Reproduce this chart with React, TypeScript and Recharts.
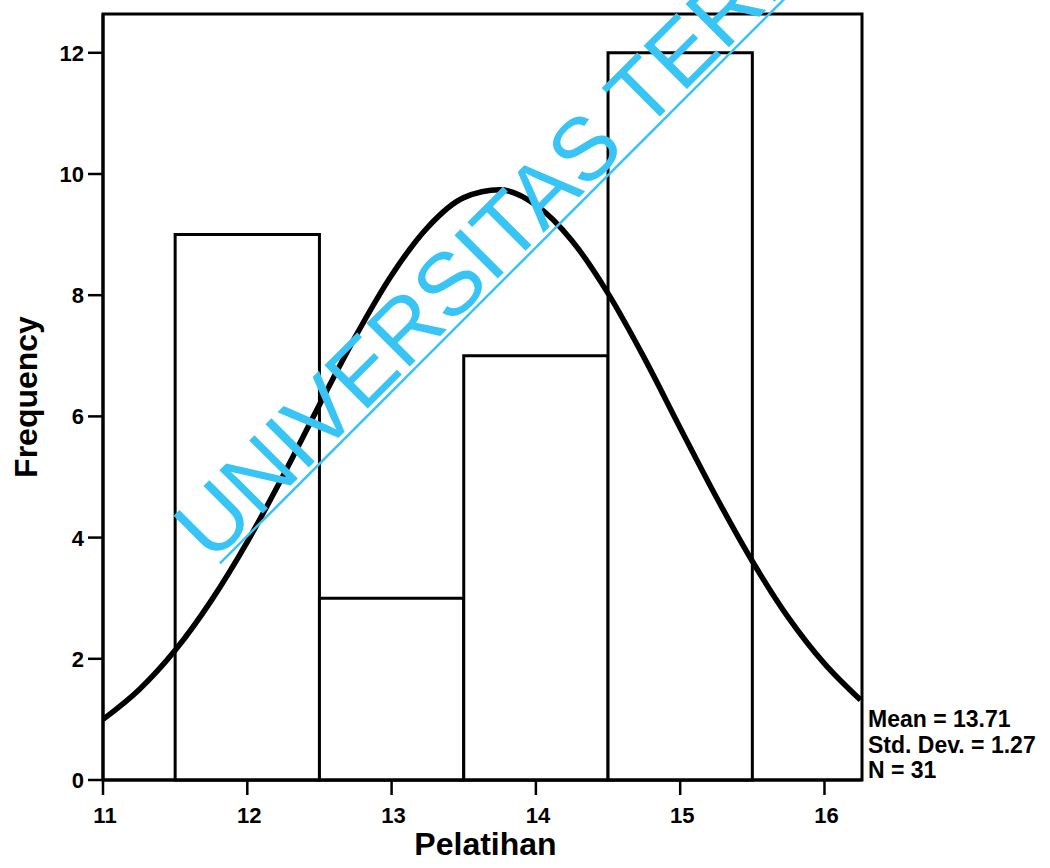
import { ComposedChart, Line, ReferenceArea, XAxis, YAxis } from "recharts";

// normal curve, every 0.25
const xPoints = [
  11, 11.25, 11.5, 11.75, 12, 12.25, 12.5, 12.75, 13, 13.25, 13.5, 13.75, 14,
  14.25, 14.5, 14.75, 15, 15.25, 15.5, 15.75, 16, 16.25,
];
const curveFreq = [
  1.0, 1.49, 2.14, 2.96, 3.93, 5.03, 6.19, 7.32, 8.33, 9.12, 9.61, 9.74, 9.49,
  8.9, 8.03, 6.97, 5.81, 4.67, 3.61, 2.68, 1.92, 1.32,
];

// histogram bins (Pelatihan)
const binMids = [12, 13, 14, 15];
const binCounts = [9, 3, 7, 12];
const BIN_WIDTH = 1;

const xTicks = [11, 12, 13, 14, 15, 16];
const yTicks = [0, 2, 4, 6, 8, 10, 12];
const statsLines = ["Mean = 13.71", "Std. Dev. = 1.27", "N = 31"];
const watermark = "UNIVERSITAS TERBUKA";

const X_DOMAIN: [number, number] = [11, 16.26];
const Y_DOMAIN: [number, number] = [0, 12.64];

const curveData = xPoints.map((x, i) => ({ x, freq: curveFreq[i] }));

const FONT = '"Liberation Sans", Arial, Helvetica, sans-serif';

function XTick(props: any) {
  const { x, y, payload } = props;
  return (
    <text x={x + 2} y={y} dy={16} textAnchor="middle" fontFamily={FONT} fontSize={22} fontWeight={700} fill="#000">
      {payload.value}
    </text>
  );
}

function YTick(props: any) {
  const { x, y, payload } = props;
  return (
    <text x={x} y={y} dy={8} textAnchor="end" fontFamily={FONT} fontSize={22} fontWeight={700} fill="#000">
      {payload.value}
    </text>
  );
}

function FreqLabel(props: any) {
  const vb = props.viewBox || { x: 43, y: 14, width: 60, height: 766 };
  const x = vb.x - 6;
  const y = vb.y + vb.height / 2;
  return (
    <text
      x={x}
      y={y}
      transform={`rotate(-90 ${x} ${y})`}
      textAnchor="middle"
      fontFamily={FONT}
      fontSize={32}
      fontWeight={700}
      fill="#000"
    >
      Frequency
    </text>
  );
}

function PelatihanLabel(props: any) {
  const vb = props.viewBox || { x: 103, y: 780, width: 759, height: 88 };
  return (
    <text
      x={vb.x + vb.width / 2 + 3}
      y={vb.y + 75}
      textAnchor="middle"
      fontFamily={FONT}
      fontSize={32}
      fontWeight={700}
      fill="#000"
    >
      Pelatihan
    </text>
  );
}

export default function App() {
  return (
    <div style={{ position: "absolute", left: 0, top: 0, width: 1050, height: 868, background: "#fff" }}>
      <ComposedChart
        width={1050}
        height={868}
        data={curveData}
        margin={{ top: 14, right: 188, bottom: 0, left: 43 }}
      >
        <XAxis
          dataKey="x"
          type="number"
          domain={X_DOMAIN}
          allowDataOverflow
          ticks={xTicks}
          height={88}
          tickSize={15}
          tickMargin={12}
          tick={XTick}
          axisLine={{ stroke: "#000", strokeWidth: 3 }}
          tickLine={{ stroke: "#000", strokeWidth: 2.5 }}
          label={{ content: PelatihanLabel }}
        />
        <YAxis
          type="number"
          domain={Y_DOMAIN}
          allowDataOverflow
          ticks={yTicks}
          width={60}
          tickSize={15}
          tickMargin={4}
          tick={YTick}
          axisLine={{ stroke: "#000", strokeWidth: 3 }}
          tickLine={{ stroke: "#000", strokeWidth: 2.5 }}
          label={{ content: FreqLabel }}
        />
        {/* plot frame */}
        <ReferenceArea
          x1={X_DOMAIN[0]}
          x2={X_DOMAIN[1]}
          y1={Y_DOMAIN[0]}
          y2={Y_DOMAIN[1]}
          fill="none"
          stroke="#000"
          strokeWidth={3}
        />
        {binMids.map((mid, i) => (
          <ReferenceArea
            key={mid}
            x1={mid - BIN_WIDTH / 2}
            x2={mid + BIN_WIDTH / 2}
            y1={0}
            y2={binCounts[i]}
            fill="#fff"
            fillOpacity={1}
            stroke="#000"
            strokeWidth={3}
          />
        ))}
        <Line
          dataKey="freq"
          type="monotone"
          stroke="#000"
          strokeWidth={5.5}
          dot={false}
          activeDot={false}
          isAnimationActive={false}
        />
      </ComposedChart>
      <svg
        width={1050}
        height={868}
        style={{ position: "absolute", left: 0, top: 0, pointerEvents: "none" }}
      >
        {statsLines.map((s, i) => (
          <text
            key={s}
            x={868}
            y={727 + i * 25.5}
            fontFamily={FONT}
            fontSize={23}
            fontWeight={700}
            fill="#000"
          >
            {s}
          </text>
        ))}
        <g transform="translate(210 562) rotate(-45)">
          <text x={0} y={3} fontFamily={FONT} fontSize={89} fill="#38c5f5">
            {watermark}
          </text>
          <line x1={6} y1={8} x2={1400} y2={8} stroke="#38c5f5" strokeWidth={2.5} />
        </g>
      </svg>
    </div>
  );
}
